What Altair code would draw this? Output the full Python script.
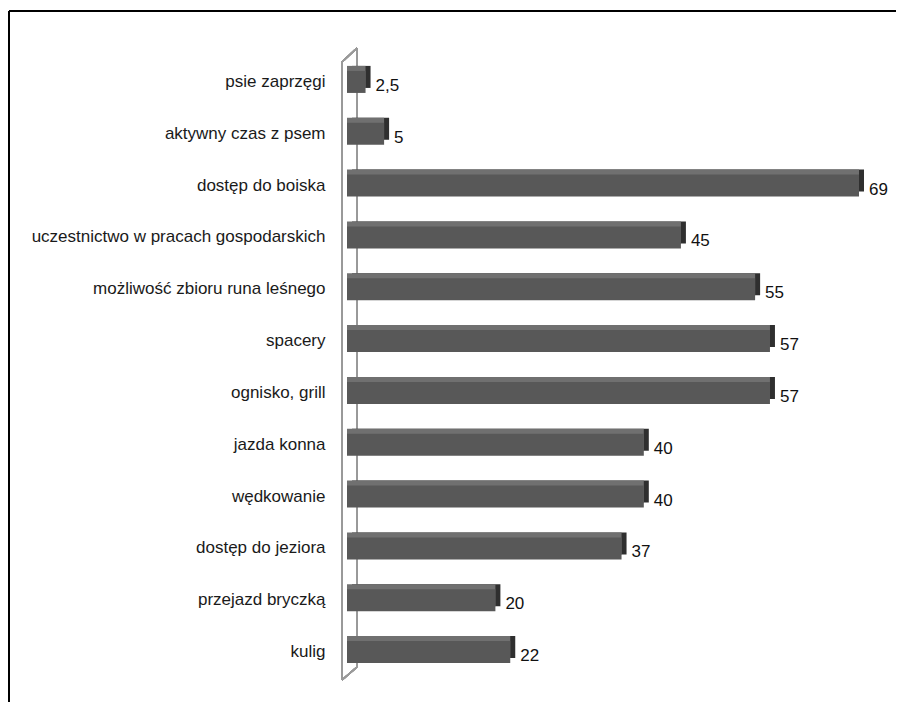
import altair as alt
import pandas as pd

categories = [
    "psie zaprzęgi",
    "aktywny czas z psem",
    "dostęp do boiska",
    "uczestnictwo w pracach gospodarskich",
    "możliwość zbioru runa leśnego",
    "spacery",
    "ognisko, grill",
    "jazda konna",
    "wędkowanie",
    "dostęp do jeziora",
    "przejazd bryczką",
    "kulig",
]
values = [2.5, 5, 69, 45, 55, 57, 57, 40, 40, 37, 20, 22]
value_labels = ["2,5", "5", "69", "45", "55", "57", "57", "40", "40", "37", "20", "22"]

df = pd.DataFrame({"cat": categories, "val": values, "lab": value_labels})

W, H = 512, 622
FONT = "Liberation Sans"

x = alt.X("val:Q", scale=alt.Scale(domain=[0, 69], nice=False, zero=True), axis=None)
y = alt.Y(
    "cat:N",
    sort=categories,
    scale=alt.Scale(paddingInner=0.575, paddingOuter=0.2875),
    axis=alt.Axis(
        title=None, ticks=False, domain=False, labelPadding=22,
        labelFont=FONT, labelFontSize=17, labelColor="#1a1a1a", labelLimit=400,
    ),
)

base = alt.Chart(df)

# 3D look: dark side face, lighter top face, then the front face
side = base.mark_bar(color="#2f2f2f", xOffset=5, x2Offset=5, yOffset=-5, y2Offset=-5).encode(x=x, y=y)
top = base.mark_bar(color="#707070", xOffset=0.01, x2Offset=5, yOffset=-5, y2Offset=-5).encode(x=x, y=y)
front = base.mark_bar(color="#585858").encode(x=x, y=y)
labels = base.mark_text(
    align="left", baseline="middle", dx=10, dy=4, font=FONT, fontSize=17, color="#111111"
).encode(x=x, y=y, text="lab:N")

wall_color = "#9a9a9a"
wall = [
    alt.Chart(df).mark_rule(color=wall_color, strokeWidth=1.6).encode(
        x=alt.value(-5), x2=alt.value(-5), y=alt.value(6), y2=alt.value(624)),
    alt.Chart(df).mark_rule(color=wall_color, strokeWidth=1.6).encode(
        x=alt.value(10), x2=alt.value(10), y=alt.value(-8), y2=alt.value(611)),
    alt.Chart(df).mark_rule(color=wall_color, strokeWidth=1.6).encode(
        x=alt.value(-5), x2=alt.value(10), y=alt.value(6), y2=alt.value(-8)),
    alt.Chart(df).mark_rule(color=wall_color, strokeWidth=1.6).encode(
        x=alt.value(-5), x2=alt.value(10), y=alt.value(624), y2=alt.value(611)),
]

frame = [
    alt.Chart(df).mark_rule(color="#000000", strokeWidth=2).encode(
        x=alt.value(-338), x2=alt.value(560), y=alt.value(-45), y2=alt.value(-45)),
    alt.Chart(df).mark_rule(color="#000000", strokeWidth=2).encode(
        x=alt.value(-338), x2=alt.value(-338), y=alt.value(-45), y2=alt.value(660)),
]

chart = alt.layer(*frame, wall[0], wall[1], wall[2], side, top, front, wall[3], labels).properties(
    width=W,
    height=H,
    autosize=alt.AutoSizeParams(type="none"),
    padding={"left": 339, "top": 48, "right": 37, "bottom": 24},
).configure(background="white").configure_view(stroke="transparent")

chart.save("out.html", embed_options={"renderer": "svg", "actions": False})
